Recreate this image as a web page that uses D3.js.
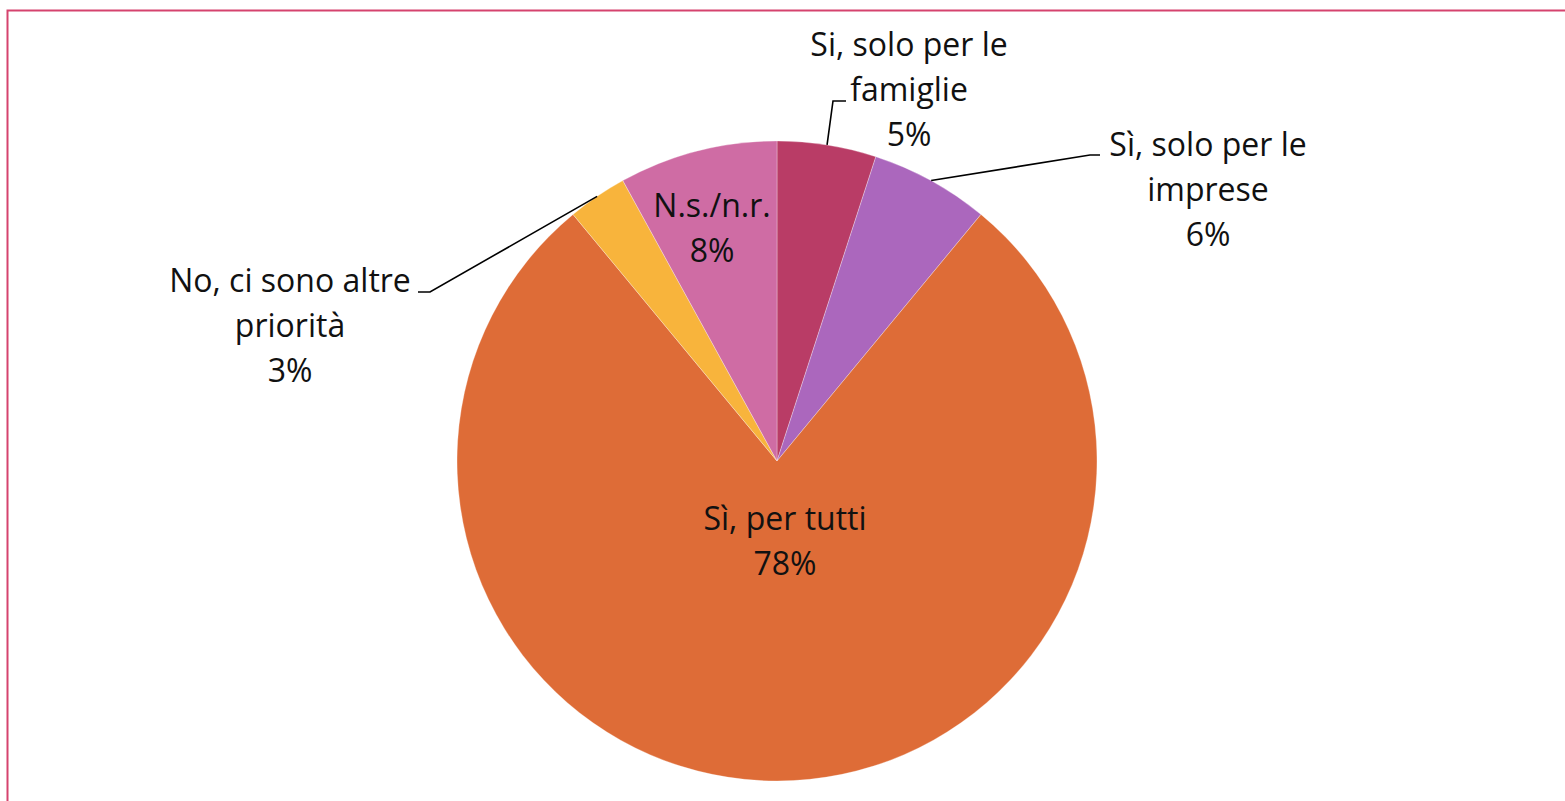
<!DOCTYPE html>
<html>
<head>
<meta charset="utf-8">
<script src="https://cdn.jsdelivr.net/npm/d3@7"></script>
<style>
  body { margin: 0; background: #fff; }
  svg text { font-family: "Open Sans", Lato, sans-serif; fill: #111; }
</style>
</head>
<body>
<div id="chart"></div>
<script>
const width = 1565;
const height = 801;

// Data (clockwise from 12 o'clock)
const categories = ["Si, solo per le famiglie", "Sì, solo per le imprese", "Sì, per tutti", "No, ci sono altre priorità", "N.s./n.r."];
const values = [5, 6, 78, 3, 8];
const labelLines = [
  ["Si, solo per le", "famiglie"],
  ["Sì, solo per le", "imprese"],
  ["Sì, per tutti"],
  ["No, ci sono altre", "priorità"],
  ["N.s./n.r."]
];
const colors = ["#B93C66", "#AB67BD", "#DE6C37", "#F8B43C", "#CF6CA4"];

// Layout: label anchor (x, first baseline) and leader elbow/end, relative to pie centre
const cx = 777, cy = 461, radius = 320;
const lineH = 45;
const labelLayout = [
  { x: 132, y: -405, leader: [[56, -360], [69, -360]] },
  { x: 431, y: -305, leader: [[313, -306], [323, -306]] },
  { x: 8, y: 69, leader: null },
  { x: -487, y: -169, leader: [[-347, -169], [-359, -169]] },
  { x: -65, y: -244, leader: null }
];

const svg = d3.select("#chart").append("svg")
  .attr("width", width)
  .attr("height", height);

// Outer frame
svg.append("rect")
  .attr("x", 7.5)
  .attr("y", 10.5)
  .attr("width", width + 20)
  .attr("height", height + 20)
  .attr("fill", "none")
  .attr("stroke", "#D5436E")
  .attr("stroke-width", 2);

const data = categories.map((c, i) => ({ name: c, value: values[i], lines: labelLines[i], color: colors[i], layout: labelLayout[i] }));

const pie = d3.pie().sort(null).value(d => d.value);
const arcs = pie(data);

const arc = d3.arc().innerRadius(0).outerRadius(radius);
const edgeArc = d3.arc().innerRadius(radius).outerRadius(radius);

const g = svg.append("g").attr("transform", `translate(${cx},${cy})`);

g.selectAll("path.slice")
  .data(arcs)
  .enter().append("path")
  .attr("class", "slice")
  .attr("d", arc)
  .attr("fill", d => d.data.color)
  .attr("stroke", "#fff")
  .attr("stroke-width", 0.6)
  .attr("stroke-opacity", 0.5);

// Leader lines
g.selectAll("path.leader")
  .data(arcs.filter(d => d.data.layout.leader))
  .enter().append("path")
  .attr("class", "leader")
  .attr("d", d => d3.line()([edgeArc.centroid(d), ...d.data.layout.leader]))
  .attr("fill", "none")
  .attr("stroke", "#000")
  .attr("stroke-width", 1.6);

// Labels
const fmt = d3.format(".0%");
const labels = g.selectAll("text.label")
  .data(arcs)
  .enter().append("text")
  .attr("class", "label")
  .attr("text-anchor", "middle")
  .attr("font-size", 32)
  .attr("transform", d => `translate(${d.data.layout.x},${d.data.layout.y})`);

labels.each(function(d) {
  const t = d3.select(this);
  const rows = d.data.lines.concat([fmt(d.value / 100)]);
  rows.forEach((r, i) => {
    t.append("tspan").attr("x", 0).attr("y", i * lineH).text(r);
  });
});
</script>
</body>
</html>
